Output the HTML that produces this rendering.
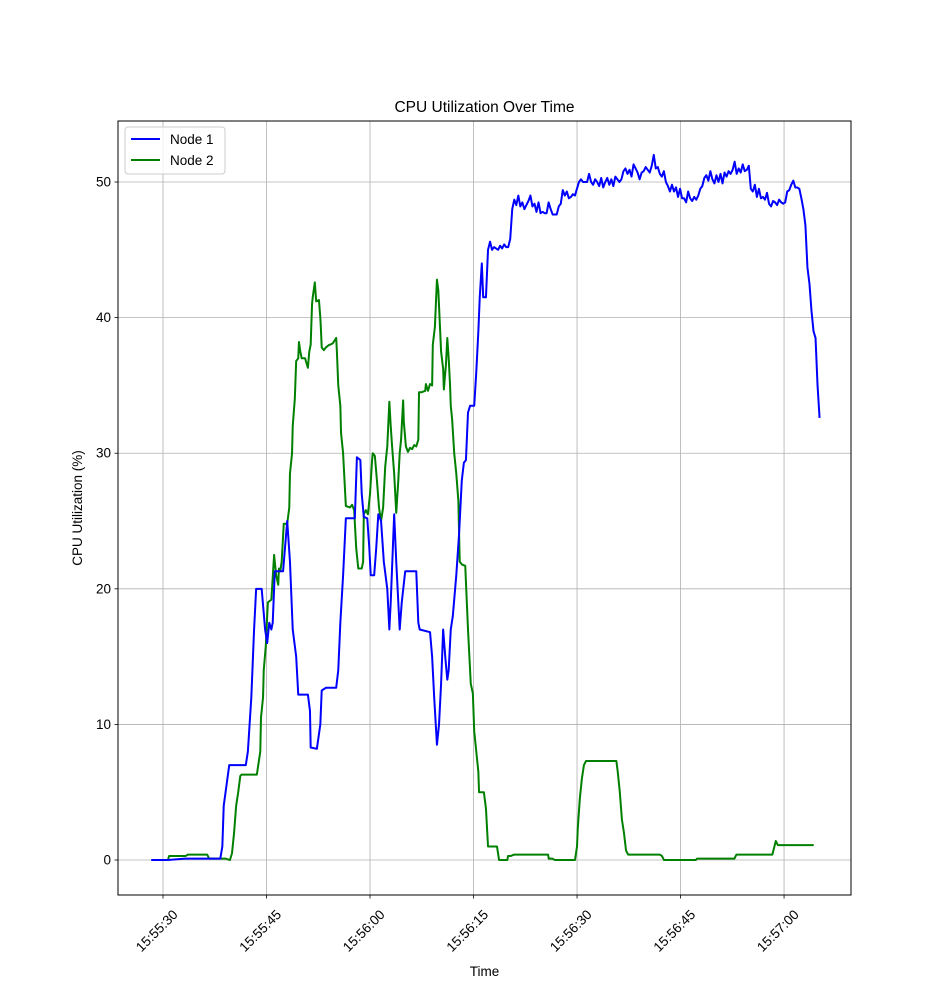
<!DOCTYPE html>
<html><head><meta charset="utf-8"><style>
body{margin:0;background:#fff;}
svg{display:block;font-family:"Liberation Sans","DejaVu Sans",sans-serif;}
</style></head><body>
<svg id="chart" width="946" height="1006" viewBox="0 0 946 1006">
<rect x="0" y="0" width="946" height="1006" fill="#fff"/>
<g id="grid"></g>
<g id="series"></g>
<rect x="118" y="121" width="733" height="774" fill="none" stroke="#000" stroke-width="1"/>
<g id="ticks"></g>
<text x="484.5" y="112" text-anchor="middle" font-size="15.5">CPU Utilization Over Time</text>
<text x="484.5" y="976" text-anchor="middle" font-size="13.5">Time</text>
<text x="0" y="0" transform="translate(82,508) rotate(-90)" text-anchor="middle" font-size="13.5">CPU Utilization (%)</text>
<g>
<rect x="125" y="127" width="100" height="47" rx="3" fill="#fff" fill-opacity="0.8" stroke="#ccc"/>
<line x1="131" y1="139" x2="160" y2="139" stroke="#0000ff" stroke-width="2"/>
<text x="170" y="144" font-size="13.5">Node 1</text>
<line x1="131" y1="160" x2="160" y2="160" stroke="#008000" stroke-width="2"/>
<text x="170" y="165" font-size="13.5">Node 2</text>
</g>
</svg>
<script>
// seconds relative to 15:55:30
const yTicks = [0,10,20,30,40,50];
const xTickSeconds = [0,15,30,45,60,75,90];
const xTickLabels = ["15:55:30","15:55:45","15:56:00","15:56:15","15:56:30","15:56:45","15:57:00"];
const node1EarlyTimes = [-1.7,0.7,3.2,6.5,8.3,8.6,8.8,9.6,12.0,12.3,12.8,13.2,13.5,14.3,14.8,15.1,15.4,15.7,15.9,16.2,16.8,17.4,18.0,18.4,18.8,19.3,19.6,21.0,21.3,21.4,22.3,22.8,23.0,23.6,25.1,25.4,25.7,26.1,26.5,27.8,28.1,28.6,28.8,29.1,29.6,29.9,30.1,30.6,30.9,31.2,31.6,32.0,32.5,32.8,33.0,33.5,33.8,34.1,34.3,34.6,35.1,36.7,37.0,37.2,38.7,39.0,39.3,39.7,40.0,40.3,40.6,40.9,41.2,41.4,41.7,42.0,42.5,42.9,43.3,43.6,43.9,44.2,44.5,45.1,45.4,45.7,45.9,46.2,46.4,46.8,47.1,47.4];
const node1EarlyValues = [0,0,0.1,0.1,0.1,1,4,7,7,8,12,17,20,20,17,16,17.5,17,17.5,21.3,21.3,21.3,25,22,17,15,12.2,12.2,11,8.3,8.2,10,12.5,12.7,12.7,14,17.5,21,25.2,25.2,29.7,29.5,27,25.3,25.2,23,21,21,23,25.5,25,22,20,17,19,25.5,22,19,17,19,21.3,21.3,17.5,17,16.8,15,12,8.5,10,13,17,15,13.3,14,17,18,21,24,28,29.3,29.5,33,33.5,33.5,36,39,41.5,44,41.5,41.5,45,45.6];
const node1TailStart = 47.68;
const node1TailStep = 0.293;
const node1TailValues = [45,45.2,45.1,45,45.3,45.1,45.4,45.2,45.2,45.8,48,48.7,48.3,49,48.2,48.5,48,48.3,48.6,49,48.2,48.4,47.8,48.5,47.7,47.8,47.7,47.7,48.5,48,47.6,47.6,47.6,48.2,48.4,49.4,49,49.3,48.8,48.9,49.1,49,49.5,50,50.2,50,50,50,50.6,50,49.8,50.2,50,49.7,50.3,49.6,50,50.3,49.8,50.2,49.7,50.4,50.2,50,50.2,50.8,51,50.6,50.9,50.4,51.3,51,50.7,50.2,50.7,50.8,51.1,50.9,50.7,51.2,52,51,51.1,50.6,50.4,50.8,50,49.7,49.3,49.8,49.3,49.6,48.9,49.5,48.8,48.8,48.5,49.3,48.8,48.6,48.9,48.7,49,49.5,49.7,50.3,50.5,50.1,50.8,50.2,49.9,50.5,50,50.6,49.9,50.7,50.4,50.8,50.6,50.9,51.5,50.6,51,50.7,51.3,50.8,50.9,51.2,49.5,49.3,49.8,48.9,49.5,48.8,48.9,48.7,49.2,48.4,48.2,48.6,48.5,48.3,48.7,48.5,48.4,48.5,49.3,49.4,49.8,50.1,49.6,49.6,49.5,48.8,48,46.8,43.7,42.5,40.5,39,38.5,35,32.6];
const node2Times = [-1.7,0.7,0.9,3.3,3.6,6.4,6.7,9.1,9.7,10.0,10.3,10.6,10.9,11.2,11.4,13.6,14.1,14.2,14.5,14.6,14.9,15.1,15.2,15.7,15.8,16.1,16.4,16.7,16.8,17.0,17.2,17.5,18.0,18.3,18.4,18.7,18.8,19.1,19.3,19.6,19.7,19.9,20.1,20.6,20.7,21.0,21.2,21.4,21.6,21.7,22.0,22.2,22.6,22.8,22.9,23.0,23.3,23.6,24.1,24.2,24.6,25.1,25.2,25.4,25.7,25.8,26.1,26.2,26.5,27.1,27.4,27.7,28.0,28.3,28.8,29.0,29.1,29.4,29.7,30.0,30.3,30.4,30.7,31.0,31.3,31.6,31.9,32.2,32.5,32.8,33.0,33.2,33.5,33.8,34.1,34.3,34.5,34.8,34.9,35.2,35.5,35.8,36.1,36.4,36.7,37.0,37.1,37.5,38.0,38.1,38.4,38.7,39.0,39.1,39.4,39.7,39.9,40.3,40.6,40.7,41.0,41.2,41.4,41.6,41.7,41.9,42.2,42.5,42.8,43.0,43.3,43.8,43.9,44.2,44.5,44.6,44.9,45.1,45.4,45.7,45.8,46.5,46.8,47.1,48.4,48.7,49.9,50.0,50.4,50.9,55.8,55.9,56.4,56.8,59.7,60.0,60.1,60.4,60.7,61.0,61.3,65.7,65.9,66.2,66.5,66.8,67.1,67.4,72.0,72.3,72.6,77.2,77.4,82.8,83.1,88.3,88.6,88.8,89.1,89.4,94.3];
const node2Values = [0,0,0.3,0.3,0.4,0.4,0.1,0.1,0,0.5,2,4,5,6.2,6.3,6.3,8,10.5,12,14,15.8,18,19,19.2,20,22.5,21,20.3,21.5,21.3,22,24.8,24.8,26,28.5,30,32,34,36.8,37,38.2,37.5,37,37,36.8,36.3,37.5,38,41,41.5,42.6,41.2,41.3,40,39,37.8,37.6,37.8,38,38,38.1,38.5,37.5,35,33.5,31.5,30,29,26.1,26,26.2,25.8,23,21.5,21.5,22,25.5,25.8,25.5,27,29.5,30,29.8,28,26,25,26,29,30.5,33.8,32,30.5,28.5,25.6,28,30,31,33.9,32.3,30.5,30.1,30.4,30.3,30.6,30.5,31,34.5,34.5,34.6,35.1,34.6,35.1,35,38,39.3,42.8,42,37.5,36.2,34.7,36.5,38.5,37,35,33.5,32.5,30,28.5,26.5,22,21.8,21.7,20.5,17,14,13,12.3,9.5,8,6.5,5,5,3.8,1,1,0,0,0.3,0.3,0.4,0.4,0.1,0.1,0,0,1,2.3,4.5,6,7,7.3,7.3,6.5,5,3,2,0.7,0.4,0.4,0.3,0,0,0.1,0.1,0.4,0.4,1,1.4,1.1,1.1,1.1];

const NS = "http://www.w3.org/2000/svg";
const L=118,R=851,T=121,B=895;
const xMin=-6.52,xMax=99.7,yMin=-2.58,yMax=54.5;
function xs(t){return L+(t-xMin)/(xMax-xMin)*(R-L);}
function ys(v){return B-(v-yMin)/(yMax-yMin)*(B-T);}
function mk(tag,attrs,parent){const e=document.createElementNS(NS,tag);for(const k in attrs)e.setAttribute(k,attrs[k]);parent.appendChild(e);return e;}
const grid=document.getElementById('grid'),ticks=document.getElementById('ticks'),series=document.getElementById('series');
yTicks.forEach(v=>{
  const y=ys(v);
  const g=mk('line',{x1:L,x2:R,y1:y,y2:y,stroke:'#b0b0b0','stroke-width':0.8},grid);
  
  
  const tk=mk('line',{x1:L-3.5,x2:L,y1:y,y2:y,stroke:'#000','stroke-width':0.8},ticks);
  
  
  const tx=mk('text',{x:L-7,y:y+4.5,'text-anchor':'end','font-size':13.5},ticks);
  tx.textContent=String(v);
  
  
});
xTickSeconds.forEach((s,i)=>{
  const x=xs(s);
  const g=mk('line',{x1:x,x2:x,y1:T,y2:B,stroke:'#b0b0b0','stroke-width':0.8},grid);
  
  
  const tk=mk('line',{x1:x,x2:x,y1:B,y2:B+3.5,stroke:'#000','stroke-width':0.8},ticks);
  
  
  const tx=mk('text',{x:0,y:0,'text-anchor':'middle','font-size':13.5,transform:`translate(${x-3},${B+39}) rotate(-45)`},ticks);
  tx.textContent=xTickLabels[i];
  
  
});
function line(times,vals,color,name){
  const d=times.map((t,i)=>(i?'L':'M')+xs(t).toFixed(2)+','+ys(vals[i]).toFixed(2)).join('');
  const p=mk('path',{d:d,fill:'none',stroke:color,'stroke-width':2,'stroke-linejoin':'round'},series);
  
  
}
const n1Times=node1EarlyTimes.concat(node1TailValues.map((_,i)=>node1TailStart+i*node1TailStep));
const n1Vals=node1EarlyValues.concat(node1TailValues);
line(node2Times,node2Values,'#008000','line-node-2');
line(n1Times,n1Vals,'#0000ff','line-node-1');
</script>
</body></html>
